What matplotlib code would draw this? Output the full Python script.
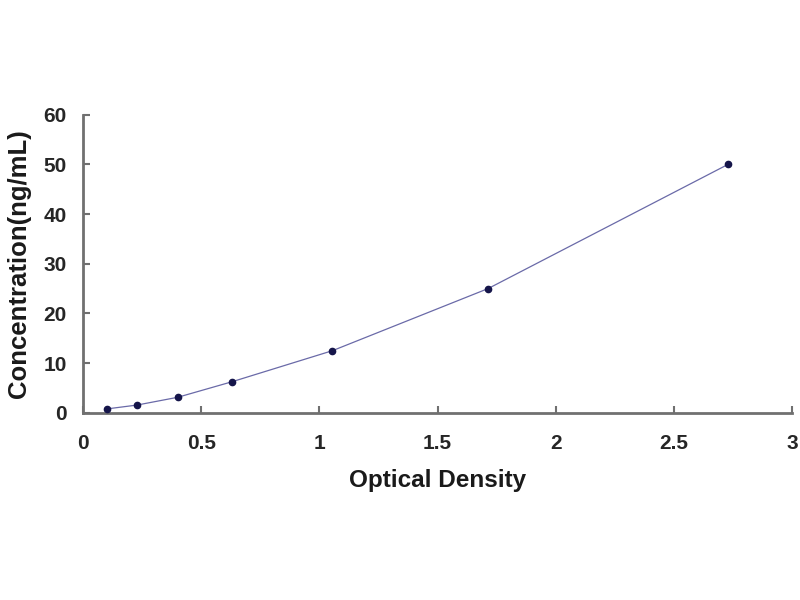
import matplotlib
matplotlib.use("Agg")
import matplotlib.pyplot as plt

# standard curve: optical density vs concentration
od = [0.10, 0.228, 0.40, 0.63, 1.055, 1.714, 2.73]
conc = [0.78, 1.56, 3.12, 6.25, 12.5, 25.0, 50.0]

x_ticks = [0, 0.5, 1, 1.5, 2, 2.5, 3]
x_tick_labels = ["0", "0.5", "1", "1.5", "2", "2.5", "3"]
y_ticks = [0, 10, 20, 30, 40, 50, 60]

plt.rcParams["font.family"] = ["Liberation Sans", "DejaVu Sans"]
fig = plt.figure(figsize=(8, 6), dpi=100)
ax = fig.add_axes([0.104, 0.312, 0.886, 0.497])

ax.plot(od, conc, color="#6a6aa8", lw=0.9, zorder=2)
ax.plot(od, conc, "o", color="#15154a", ms=4.5, zorder=3)

ax.set_xlim(0, 3)
ax.set_ylim(0, 60)
ax.set_xticks(x_ticks)
ax.set_xticklabels(x_tick_labels)
ax.set_yticks(y_ticks)

for s in ("top", "right"):
    ax.spines[s].set_visible(False)
for s in ("left", "bottom"):
    ax.spines[s].set_color("#707070")
    ax.spines[s].set_linewidth(2.0)

ax.tick_params(direction="in", length=5, width=1.5, color="#707070",
               labelsize=15, labelcolor="#262626")
ax.tick_params(axis="x", pad=15)
ax.tick_params(axis="y", pad=12)
for lab in ax.get_xticklabels() + ax.get_yticklabels():
    lab.set_fontweight("bold")

ax.set_xlabel("Optical Density", fontsize=17.5, fontweight="bold", color="#1a1a1a", labelpad=12)
ax.set_ylabel("Concentration(ng/mL)", fontsize=18.5, fontweight="bold", color="#1a1a1a", labelpad=9)

fig.savefig("out.png", dpi=100)
